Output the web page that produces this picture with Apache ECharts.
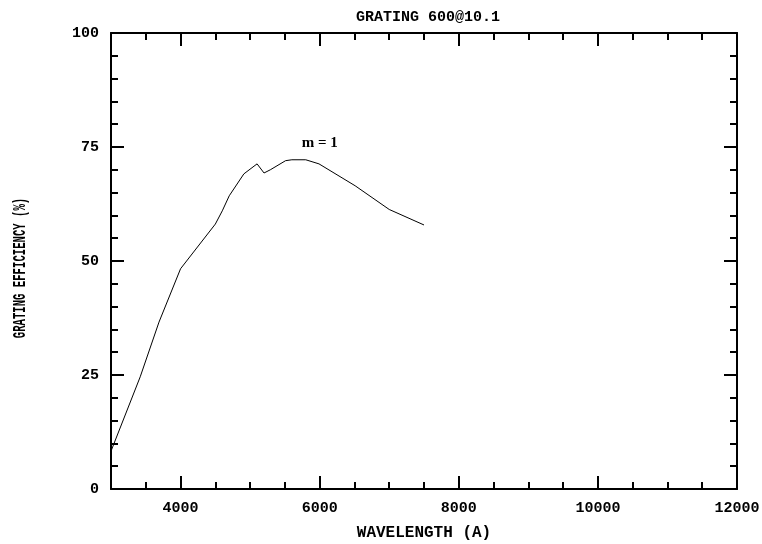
<!DOCTYPE html>
<html>
<head>
<meta charset="utf-8">
<script src="https://cdn.jsdelivr.net/npm/echarts@6/dist/echarts.min.js"></script>
<style>html,body{margin:0;padding:0;background:#fff}#c{width:762px;height:544px}</style>
</head>
<body>
<div id="c"></div>
<script>
var wavelength = [3000, 3420, 3690, 4000, 4500, 4600, 4700, 4910, 5100, 5200, 5290, 5510, 5600, 5800, 5990, 6510, 7000, 7500];
var efficiency = [8.3, 24.6, 36.6, 48.3, 58.1, 61.0, 64.3, 69.1, 71.3, 69.3, 70.0, 72.0, 72.2, 72.2, 71.3, 66.5, 61.3, 57.9];
var xMajorTicks = [4000, 6000, 8000, 10000, 12000];
var xMinorTicks = [3500, 4500, 5000, 5500, 6500, 7000, 7500, 8500, 9000, 9500, 10500, 11000, 11500];
var yMajorTicks = [0, 25, 50, 75, 100];
var yMinorTicks = [5, 10, 15, 20, 30, 35, 40, 45, 55, 60, 65, 70, 80, 85, 90, 95];
var orderLabel = {x: 6000, y: 75.9, text: 'm = 1'};

var monoFont = '"Liberation Mono", "DejaVu Sans Mono", monospace';
var lineStyle = {color: '#000', width: 2};
function plain(v) { return String(v); }

function xAx(pos, ticks, len, labels, showLine, extra) {
  var a = {
    type: 'value', position: pos, min: 3000, max: 12000, interval: 500,
    axisLine: {show: showLine, onZero: false, lineStyle: lineStyle},
    axisTick: {show: true, inside: true, length: len, customValues: ticks, lineStyle: {color: '#000', width: 2}},
    axisLabel: labels ? {show: true, customValues: xMajorTicks, formatter: plain, color: '#000', fontFamily: monoFont, fontWeight: 'bold', fontSize: 15, margin: 12} : {show: false},
    splitLine: {show: false}
  };
  return Object.assign(a, extra || {});
}
function yAx(pos, ticks, len, labels, showLine) {
  return {
    type: 'value', position: pos, min: 0, max: 100, interval: 5,
    axisLine: {show: showLine, onZero: false, lineStyle: lineStyle},
    axisTick: {show: true, inside: true, length: len, customValues: ticks, lineStyle: {color: '#000', width: 2}},
    axisLabel: labels ? {show: true, customValues: yMajorTicks, formatter: plain, color: '#000', fontFamily: monoFont, fontWeight: 'bold', fontSize: 15, margin: 12} : {show: false},
    splitLine: {show: false}
  };
}

var data = wavelength.map(function (w, i) { return [w, efficiency[i]]; });

var chart = echarts.init(document.getElementById('c'));
chart.setOption({
  animation: false,
  backgroundColor: '#fff',
  title: {
    text: 'GRATING 600@10.1', left: 423, top: 5, textAlign: 'center',
    textStyle: {fontFamily: monoFont, fontWeight: 'bold', fontSize: 15, color: '#000'}
  },
  grid: {left: 111, right: 25, top: 33, bottom: 55, containLabel: false, outerBoundsMode: 'none'},
  xAxis: [
    xAx('bottom', xMajorTicks, 13, true, true, {
      name: 'WAVELENGTH (A)', nameLocation: 'middle', nameGap: 36,
      nameTextStyle: {fontFamily: monoFont, fontWeight: 'bold', fontSize: 16, color: '#000'}
    }),
    xAx('bottom', xMinorTicks, 7, false, false),
    xAx('top', xMajorTicks, 13, false, true),
    xAx('top', xMinorTicks, 7, false, false)
  ],
  yAxis: [
    yAx('left', yMajorTicks, 13, true, true),
    yAx('left', yMinorTicks, 7, false, false),
    yAx('right', yMajorTicks, 13, false, true),
    yAx('right', yMinorTicks, 7, false, false)
  ],
  graphic: [{
    type: 'text', x: 20, y: 268, rotation: Math.PI / 2, scaleX: 0.56, scaleY: 1,
    style: {text: 'GRATING EFFICIENCY (%)', font: 'bold 19px "Liberation Mono"', fill: '#000', align: 'center', verticalAlign: 'middle'}
  }],
  series: [{
    type: 'line', data: data, xAxisIndex: 0, yAxisIndex: 0,
    showSymbol: false, symbol: 'none', smooth: false,
    lineStyle: {color: '#000', width: 1}
  }, {
    type: 'scatter', data: [[orderLabel.x, orderLabel.y]], symbolSize: 0, itemStyle: {opacity: 1},
    label: {show: true, position: 'inside', formatter: orderLabel.text, color: '#000',
      fontFamily: '"Liberation Serif", serif', fontWeight: 'bold', fontSize: 15}
  }]
});
</script>
</body>
</html>
